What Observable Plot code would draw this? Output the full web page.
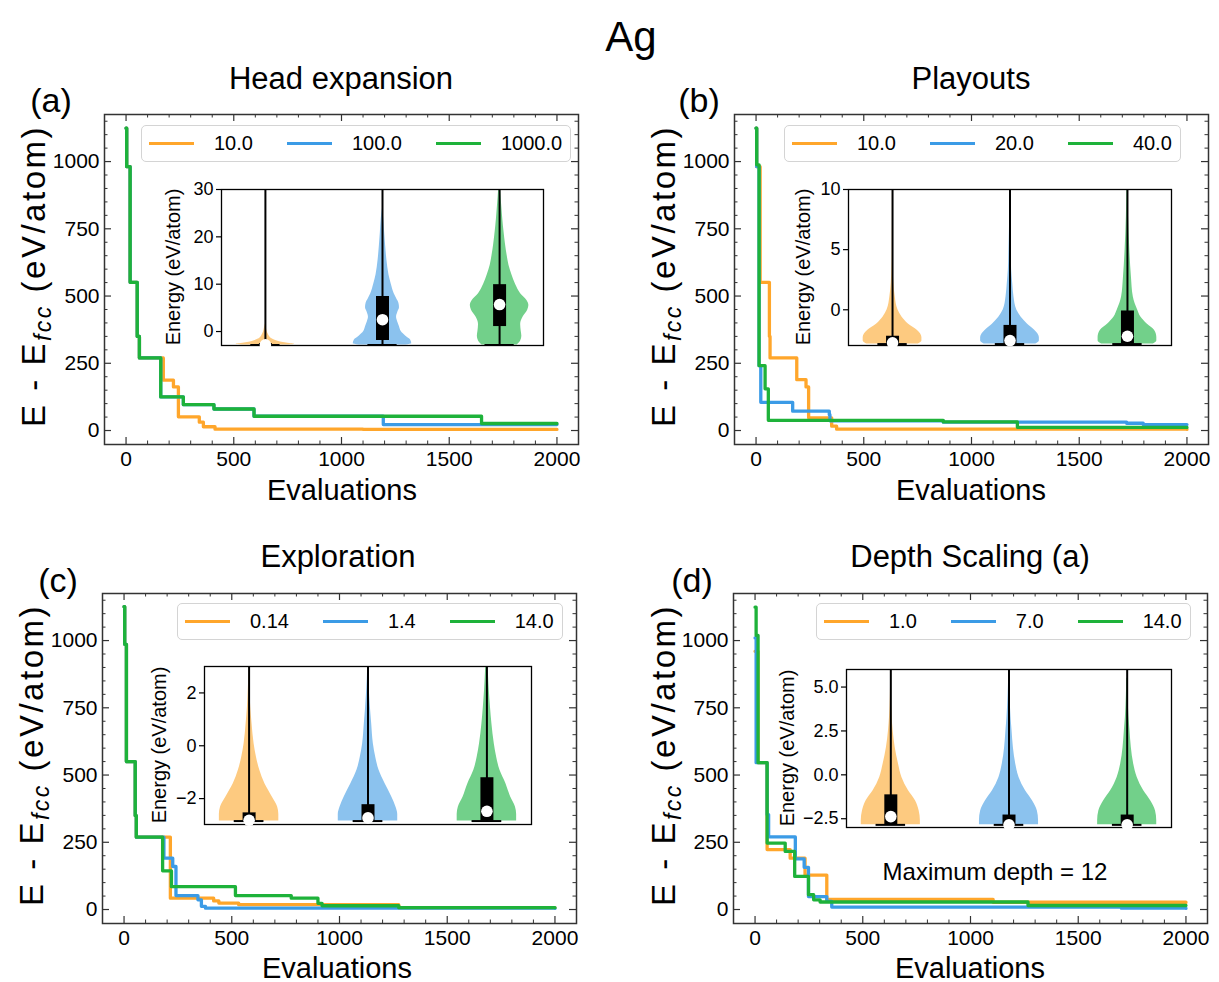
<!DOCTYPE html>
<html><head><meta charset="utf-8">
<script src="https://cdn.jsdelivr.net/npm/d3@7"></script>
<script src="https://cdn.jsdelivr.net/npm/@observablehq/plot@0.6"></script>
<style>
body{margin:0;background:#fff;}
#root{position:relative;width:1219px;height:982px;font-family:"Liberation Sans",Arial,sans-serif;color:#000;overflow:hidden;background:#fff}
.txt{position:absolute;white-space:nowrap;transform:translate(-50%,-50%);line-height:1}
.rot{transform:translate(-50%,-50%) rotate(-90deg)}
.legend{position:absolute;display:flex;align-items:center;gap:34px;padding:0 8px 0 7px;height:37px;box-sizing:border-box;border:1px solid #d4d4d4;border-radius:5px;background:rgba(255,255,255,0.85);font-size:20px}
.item{display:flex;align-items:center;gap:20px}
.sw{width:45px;height:3.5px}
</style></head><body><div id="root"></div>
<script>
// ---------- main-panel step data (Evaluations, E - Efcc) ----------
const aX_10   = [0, 3, 19, 52, 62, 173, 220, 243, 340, 359, 413, 1100, 2000];
const aY_10   = [1124, 981, 551, 350, 270, 187, 162, 51, 31, 14, 5, 4, 4];
const aX_100  = [0, 3, 19, 52, 62, 161, 266, 408, 594, 1194, 2000];
const aY_100  = [1124, 981, 551, 350, 270, 125, 96, 80, 53, 22, 22];
const aX_1000 = [0, 3, 19, 52, 62, 161, 266, 408, 594, 1650, 2000];
const aY_1000 = [1124, 981, 551, 350, 270, 125, 96, 80, 53, 26, 26];

const bX_10 = [0, 3, 19, 62, 65, 189, 232, 244, 351, 374, 2000];
const bY_10 = [1124, 981, 551, 350, 270, 189, 162, 47, 16, 5, 4];
const bX_20 = [0, 3, 14, 22, 170, 340, 343, 869, 1720, 1797, 2000];
const bY_20 = [1124, 981, 241, 105, 72, 59, 36, 31, 27, 22, 22];
const bX_40 = [0, 3, 14, 42, 57, 869, 1213, 2000];
const bY_40 = [1124, 988, 241, 155, 38, 32, 12, 11];

const cX_014 = [0, 3, 11, 52, 57, 215, 416, 440, 532, 1275, 2000];
const cY_014 = [1126, 986, 550, 349, 269, 42, 32, 24, 18, 7, 7];
const cX_14  = [0, 3, 11, 52, 57, 185, 226, 241, 343, 359, 378, 2000];
const cY_14  = [1126, 986, 550, 349, 269, 191, 160, 52, 36, 12, 5, 4];
const cX_140 = [0, 3, 11, 52, 57, 179, 220, 517, 776, 900, 919, 1275, 2000];
const cY_140 = [1126, 986, 550, 349, 269, 144, 85, 52, 42, 23, 14, 7, 7];

const dX_1  = [0, 3, 14, 56, 163, 232, 333, 1105, 2000];
const dY_1  = [960, 960, 546, 223, 191, 128, 38, 27, 26];
const dX_7  = [0, 5, 56, 63, 187, 228, 248, 333, 356, 1700, 2000];
const dY_7  = [1010, 546, 353, 270, 188, 157, 48, 30, 9, 5, 4];
const dX_14 = [0, 5, 14, 56, 140, 184, 248, 272, 302, 1267, 2000];
const dY_14 = [1124, 1019, 546, 247, 216, 123, 55, 36, 28, 15, 15];

// ---------- axis ticks ----------
const xMajor = [0, 500, 1000, 1500, 2000];
const xMinor = [100,200,300,400,600,700,800,900,1100,1200,1300,1400,1600,1700,1800,1900];
const yMajor = [0, 250, 500, 750, 1000];
const yMinor = [50,100,150,200,300,350,400,450,550,600,650,700,800,850,900,950,1050,1100,1150];

// ---------- inset violins (energy levels and half-widths) ----------
const vA1_e = [-2.85,-2.75,-2.6,-2.4,-2.2,-2.0,-1.6,-1.2,-0.6,0,0.8,1.6];
const vA1_w = [0.2,0.25,0.23,0.18,0.13,0.1,0.06,0.04,0.025,0.015,0.008,0];
const vA2_e = [-2.85,-2.6,-1.8,-1.0,0,1,2,3,4,5,6,7,8,10,12,15,18,21,24,26];
const vA2_w = [0.2,0.25,0.24,0.2,0.16,0.145,0.13,0.12,0.13,0.145,0.14,0.12,0.1,0.075,0.055,0.038,0.027,0.018,0.01,0];
const vA3_e = [-2.85,-2,-1,0,1.5,3,4.5,5.5,6.5,8,10,12,14,16,18.5,21,23.5,26,28.5,31];
const vA3_w = [0.15,0.18,0.19,0.185,0.18,0.2,0.24,0.25,0.235,0.18,0.136,0.105,0.08,0.065,0.05,0.038,0.028,0.02,0.012,0.006];
const insetA_q1 = [-2.85, -1.9, 1.05];
const insetA_med = [-2.82, 2.5, 5.7];
const insetA_q3 = [-2.55, 7.4, 9.9];

const vB1_e = [-2.85,-2.6,-2.3,-1.7,-1.2,-0.6,0,1.06,2.2,3.3,5,10];
const vB1_w = [0.22,0.25,0.25,0.21,0.137,0.08,0.046,0.023,0.011,0.006,0.003,0.001];
const vB2_e = [-2.85,-2.6,-2.3,-1.7,-1.2,-0.6,0,1.06,2.2,3.3,5,7,9];
const vB2_w = [0.22,0.25,0.25,0.21,0.15,0.094,0.057,0.034,0.023,0.014,0.009,0.004,0.001];
const vB3_e = [-2.85,-2.6,-2.3,-1.7,-1.2,-0.6,0,1.06,2.7,5,7.8,10];
const vB3_w = [0.22,0.25,0.25,0.23,0.17,0.114,0.086,0.05,0.034,0.02,0.009,0.005];
const insetB_q1 = [-2.85, -2.85, -2.85];
const insetB_med = [-2.75, -2.56, -2.2];
const insetB_q3 = [-2.2, -1.3, -0.1];

const vC1_e = [-2.85,-2.6,-2.32,-1.94,-1.44,-0.93,-0.43,0.08,0.83,1.46,2.0,2.6,3.0];
const vC1_w = [0.25,0.25,0.24,0.195,0.133,0.09,0.062,0.042,0.025,0.014,0.008,0.003,0.001];
const vC2_e = [-2.85,-2.6,-2.32,-1.94,-1.44,-0.93,-0.43,0.08,0.83,1.46,2.2,2.8,3.0];
const vC2_w = [0.25,0.25,0.235,0.2,0.144,0.093,0.065,0.045,0.031,0.02,0.01,0.004,0.003];
const vC3_e = [-2.85,-2.6,-2.32,-1.94,-1.44,-0.93,-0.43,0.08,0.83,1.46,2.09,2.7,3.0];
const vC3_w = [0.25,0.25,0.24,0.2,0.16,0.11,0.082,0.062,0.042,0.03,0.02,0.013,0.01];
const insetC_q1 = [-2.85, -2.85, -2.85];
const insetC_med = [-2.82, -2.73, -2.48];
const insetC_q3 = [-2.54, -2.23, -1.21];

const vD1_e = [-2.85,-2.6,-2.06,-1.49,-0.91,-0.15,0.61,1.56,2.5,3.3,4.5,6];
const vD1_w = [0.25,0.25,0.24,0.21,0.15,0.094,0.065,0.037,0.02,0.011,0.004,0.001];
const vD2_e = [-2.85,-2.6,-2.06,-1.49,-0.91,-0.15,0.61,1.56,2.5,3.3,4.5,5.5];
const vD2_w = [0.25,0.25,0.24,0.2,0.14,0.085,0.057,0.037,0.026,0.017,0.008,0.003];
const vD3_e = [-2.85,-2.6,-2.06,-1.49,-0.91,-0.15,0.61,1.56,2.5,3.3,4.5,5.5];
const vD3_w = [0.25,0.25,0.24,0.2,0.14,0.085,0.055,0.035,0.024,0.015,0.007,0.003];
const insetD_q1 = [-2.85, -2.85, -2.85];
const insetD_med = [-2.38, -2.85, -2.85];
const insetD_q3 = [-1.14, -2.29, -2.29];

const violinPos = [1, 2, 3];
const violinMin = [-2.85, -2.85, -2.85];
const violinMax = [40, 40, 40];

const insetA_ticks = [0, 10, 20, 30];
const insetB_ticks = [0, 5, 10];
const insetC_ticks = [-2, 0, 2];
const insetC_tickLabels = ["−2", "0", "2"];
const insetD_ticks = [-2.5, 0, 2.5, 5];
const insetD_tickLabels = ["−2.5", "0.0", "2.5", "5.0"];

const legendA = ["10.0", "100.0", "1000.0"];
const legendB = ["10.0", "20.0", "40.0"];
const legendC = ["0.14", "1.4", "14.0"];
const legendD = ["1.0", "7.0", "14.0"];

// ---------- styling ----------
const LINE = ["#ffa62b", "#3b9be6", "#1eb23a"];
const FILL = ["#fdca80", "#8bc2ee", "#72d08a"];
const FONT = "Liberation Sans, Arial, sans-serif";
const root = document.getElementById("root");

function txt(s, cx, cy, size, rot, spacing) {
  const d = document.createElement("div");
  d.className = "txt" + (rot ? " rot" : "");
  d.style.left = cx + "px"; d.style.top = cy + "px"; d.style.fontSize = size + "px";
  if (spacing) d.style.letterSpacing = spacing + "px";
  d.innerHTML = s;
  root.appendChild(d);
}

function legend(left, top, labels) {
  const box = document.createElement("div");
  box.className = "legend";
  box.style.left = left + "px"; box.style.top = top + "px";
  labels.forEach((l, i) => {
    const it = document.createElement("div"); it.className = "item";
    const sw = document.createElement("div"); sw.className = "sw"; sw.style.background = LINE[i];
    const t = document.createElement("span"); t.textContent = l;
    it.appendChild(sw); it.appendChild(t); box.appendChild(it);
  });
  root.appendChild(box);
}

function mainPanel(left, top, xs, ys) {
  const W = 474, H = 330, mL = 70, mR = 12, mT = 10, mB = 42;
  const series = xs.map((xa, k) => xa.map((x, i) => ({x, y: ys[k][i]})));
  const svg = Plot.plot({
    width: W + mL + mR, height: H + mT + mB,
    marginLeft: mL, marginRight: mR, marginTop: mT, marginBottom: mB,
    style: {background: "transparent", fontFamily: FONT, fontSize: "21px", color: "#000"},
    x: {domain: [-100, 2100], label: null},
    y: {domain: [-52, 1175], label: null},
    marks: [
      ...series.map((s, k) => Plot.line(s, {x: "x", y: "y", curve: "step-after", stroke: LINE[k], strokeWidth: 3.3, clip: true})),
      Plot.tickX(xMajor, {x: d => d, insetTop: H - 7, stroke: "#333", strokeWidth: 1.2}),
      Plot.tickX(xMajor, {x: d => d, insetBottom: H - 7, stroke: "#333", strokeWidth: 1.2}),
      Plot.tickX(xMinor, {x: d => d, insetTop: H - 3.5, stroke: "#333", strokeWidth: 1}),
      Plot.tickX(xMinor, {x: d => d, insetBottom: H - 3.5, stroke: "#333", strokeWidth: 1}),
      Plot.tickY(yMajor, {y: d => d, insetRight: W - 7, stroke: "#333", strokeWidth: 1.2}),
      Plot.tickY(yMajor, {y: d => d, insetLeft: W - 7, stroke: "#333", strokeWidth: 1.2}),
      Plot.tickY(yMinor, {y: d => d, insetRight: W - 3.5, stroke: "#333", strokeWidth: 1}),
      Plot.tickY(yMinor, {y: d => d, insetLeft: W - 3.5, stroke: "#333", strokeWidth: 1}),
      Plot.axisX(xMajor, {tickSize: 0, tickPadding: 7, fontSize: 21, tickFormat: d => String(d), label: null}),
      Plot.axisY(yMajor, {tickSize: 0, tickPadding: 5, fontSize: 21, tickFormat: d => String(d), label: null}),
      Plot.frame({stroke: "#333", strokeWidth: 1.5})
    ]
  });
  svg.style.position = "absolute";
  svg.style.left = (left - mL) + "px";
  svg.style.top = (top - mT) + "px";
  root.appendChild(svg);
}

function inset(left, top, W, H, yDomain, ticks, tickLabels, ve, vw, q1, med, q3) {
  const mL = 62, mR = 4, mT = 6, mB = 8;
  const stats = violinPos.map((p, i) => ({pos: p, min: violinMin[i], max: violinMax[i], q1: q1[i], med: med[i], q3: q3[i]}));
  const fmt = tickLabels ? (d => tickLabels[ticks.indexOf(d)]) : (d => String(d));
  const svg = Plot.plot({
    width: W + mL + mR, height: H + mT + mB,
    marginLeft: mL, marginRight: mR, marginTop: mT, marginBottom: mB,
    style: {background: "transparent", fontFamily: FONT, fontSize: "18px", color: "#000", overflow: "visible"},
    x: {domain: [0.625, 3.375], axis: null},
    y: {domain: yDomain, label: null},
    marks: [
      Plot.frame({fill: "white", stroke: null}),
      ...ve.map((es, k) => Plot.areaX(es.map((e, i) => ({e, x1: violinPos[k] - vw[k][i], x2: violinPos[k] + vw[k][i]})),
        {y: "e", x1: "x1", x2: "x2", fill: FILL[k], curve: "monotone-y", clip: true})),
      Plot.ruleX(stats, {x: "pos", y1: "min", y2: "max", stroke: "black", strokeWidth: 2, clip: true}),
      Plot.ruleX(stats, {x: "pos", y1: "q1", y2: "q3", stroke: "black", strokeWidth: 13}),
      Plot.ruleY(stats, {y: "min", x1: d => d.pos - 0.125, x2: d => d.pos + 0.125, stroke: "black", strokeWidth: 2}),
      Plot.frame({stroke: "black", strokeWidth: 1.3}),
      Plot.axisY(ticks, {tickSize: 5, tickPadding: 3, fontSize: 18, tickFormat: fmt, label: null, strokeWidth: 1.2}),
      Plot.dot(stats, {x: "pos", y: "med", r: 5.8, fill: "white", stroke: null})
    ]
  });
  svg.style.position = "absolute";
  svg.style.left = (left - mL) + "px";
  svg.style.top = (top - mT) + "px";
  root.appendChild(svg);
}

// ---------- build ----------
mainPanel(104, 114, [aX_10, aX_100, aX_1000], [aY_10, aY_100, aY_1000]);
mainPanel(734, 114, [bX_10, bX_20, bX_40], [bY_10, bY_20, bY_40]);
mainPanel(102, 593, [cX_014, cX_14, cX_140], [cY_014, cY_14, cY_140]);
mainPanel(733, 593, [dX_1, dX_7, dX_14], [dY_1, dY_7, dY_14]);

inset(221, 189, 322, 156, [-2.95, 30], insetA_ticks, null, [vA1_e, vA2_e, vA3_e], [vA1_w, vA2_w, vA3_w], insetA_q1, insetA_med, insetA_q3);
inset(848, 189, 323, 156, [-2.97, 10], insetB_ticks, null, [vB1_e, vB2_e, vB3_e], [vB1_w, vB2_w, vB3_w], insetB_q1, insetB_med, insetB_q3);
inset(204, 666, 327, 158, [-2.98, 3], insetC_ticks, insetC_tickLabels, [vC1_e, vC2_e, vC3_e], [vC1_w, vC2_w, vC3_w], insetC_q1, insetC_med, insetC_q3);
inset(846, 669, 325, 158, [-3.0, 6], insetD_ticks, insetD_tickLabels, [vD1_e, vD2_e, vD3_e], [vD1_w, vD2_w, vD3_w], insetD_q1, insetD_med, insetD_q3);

legend(141, 125, legendA);
legend(784, 125, legendB);
legend(177, 603, legendC);
legend(816, 603, legendD);

const ylab = 'E - E<sub style="font-size:0.7em;font-style:italic;vertical-align:-0.25em">fcc</sub> (eV/atom)';
txt("Ag", 631, 37, 42);
txt("Head expansion", 341, 78, 31);
txt("Playouts", 971, 78, 31);
txt("Exploration", 338, 556, 31);
txt("Depth Scaling (a)", 970, 556, 31);
txt("(a)", 51, 100, 34);
txt("(b)", 699, 100, 34);
txt("(c)", 58, 580, 34);
txt("(d)", 692, 580, 34);
txt(ylab, 36, 276, 33, true, 2.5);
txt(ylab, 666, 276, 33, true, 2.5);
txt(ylab, 34, 755, 33, true, 2.5);
txt(ylab, 666, 755, 33, true, 2.5);
txt("Evaluations", 342, 490, 29);
txt("Evaluations", 971, 490, 29);
txt("Evaluations", 337, 968, 29);
txt("Evaluations", 970, 968, 29);
txt("Energy (eV/atom)", 173, 267, 20, true);
txt("Energy (eV/atom)", 803, 267, 20, true);
txt("Energy (eV/atom)", 159, 745, 20, true);
txt("Energy (eV/atom)", 787, 748, 20, true);
txt("Maximum depth = 12", 995, 872, 24);
</script></body></html>
